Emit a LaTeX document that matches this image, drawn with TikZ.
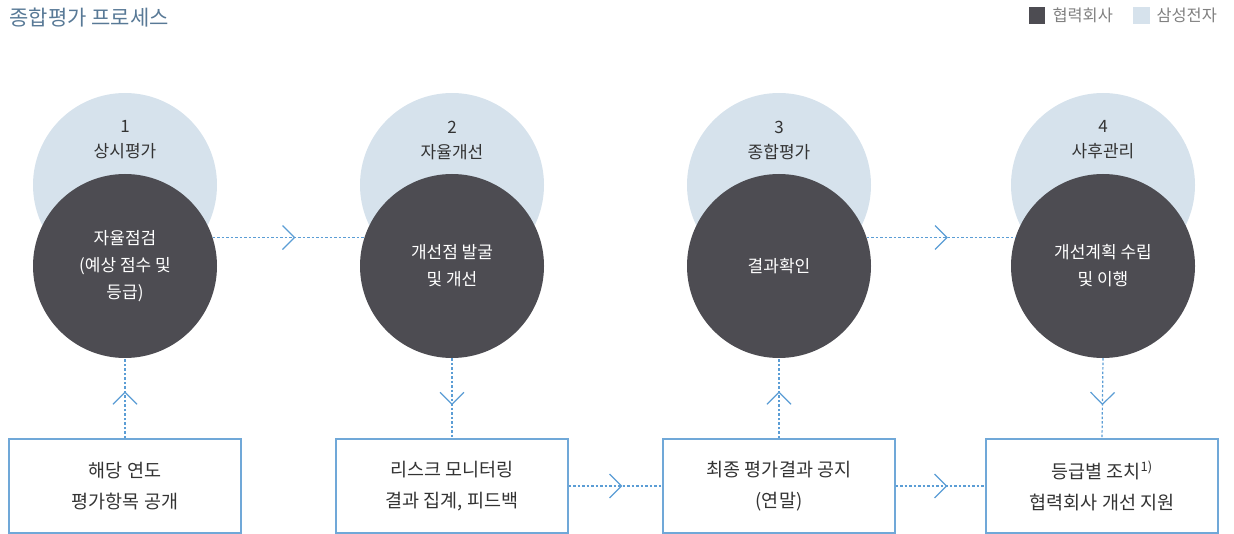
\documentclass[tikz,border=0pt]{standalone}
\usepackage{fontspec}
\setmainfont{Noto Sans CJK KR}
\usepackage{tikz}
\usetikzlibrary{arrows.meta,positioning,decorations.markings}
\definecolor{dark}{RGB}{77,76,82}
\definecolor{pale}{RGB}{214,226,236}
\definecolor{flowblue}{RGB}{91,157,213}
\definecolor{frame}{RGB}{112,168,216}
\definecolor{heading}{RGB}{88,121,150}
\definecolor{ink}{RGB}{51,51,51}
\definecolor{grey}{RGB}{128,128,128}

\begin{document}
\begin{tikzpicture}[x=1pt,y=-1pt,
  outer/.style={circle,fill=pale,minimum size=184pt,inner sep=0pt},
  inner/.style={circle,fill=dark,minimum size=184pt,inner sep=0pt,text=white,align=center,font=\fontsize{17}{27}\selectfont},
  phase/.style={align=center,text=ink,font=\fontsize{17}{25}\selectfont},
  stepbox/.style={draw=frame,line width=1.2pt,minimum width=232pt,minimum height=94pt,align=center,text=ink,font=\fontsize{18.5}{31}\selectfont},
  flow/.style={flowblue,line width=1.2pt,dash pattern=on 2.5pt off 2pt,postaction={decorate},
    decoration={markings,mark=at position .5 with {\draw[solid,line width=1.2pt] (-6pt,-12pt) -- (6pt,0pt) -- (-6pt,12pt);}}}]
\useasboundingbox (0,0) rectangle (1234,534);
\node[anchor=west,text=heading,font=\fontsize{21}{24}\selectfont] (title) at (6,18) {종합평가 프로세스};
\fill[dark] (1029,7) rectangle (1045,24); \node[anchor=west,text=grey,font=\fontsize{16.4}{18}\selectfont] (keyA) at (1049,15.5) {협력회사};
\fill[pale] (1133,7) rectangle (1150,24); \node[anchor=west,text=grey,font=\fontsize{16.4}{18}\selectfont] (keyB) at (1153,15.5) {삼성전자};

\node[outer] (o1) at (125,185) {}; \node[outer] (o2) at (452,185) {};
\node[outer] (o3) at (779,185) {}; \node[outer] (o4) at (1103,185) {};
\node[phase] (p1) at (125,140) {1\\상시평가};
\node[phase] (p2) at (452,140) {2\\자율개선};
\node[phase] (p3) at (779,140) {3\\종합평가};
\node[phase] (p4) at (1103,140) {4\\사후관리};
\node[inner] (d1) at (125,266) {자율점검\\(예상 점수 및\\등급)};
\node[inner] (d2) at (452,266) {개선점 발굴\\및 개선};
\node[inner] (d3) at (779,266) {결과확인};
\node[inner] (d4) at (1103,266) {개선계획 수립\\및 이행};

\node[stepbox] (b1) at (125,486) {해당 연도\\평가항목 공개};
\node[stepbox] (b2) at (452,486) {리스크 모니터링\\결과 집계, 피드백};
\node[stepbox] (b3) at (779,486) {최종 평가결과 공지\\(연말)};
\node[stepbox] (b4) at (1102,486) {등급별 조치\textsuperscript{1)}\\협력회사 개선 지원};

\draw[flow] (d1.18) -- (d1.18 -| d2.162);
\draw[flow] (d3.18) -- (d3.18 -| d4.162);
\draw[flow] (b1.north) -- (d1.south);
\draw[flow] (d2.south) -- (b2.north);
\draw[flow] (b3.north) -- (d3.south);
\draw[flow] (d4.south) -- (b4.north);
\draw[flow] (b2.east) -- (b3.west);
\draw[flow] (b3.east) -- (b4.west);
\end{tikzpicture}
\end{document}
